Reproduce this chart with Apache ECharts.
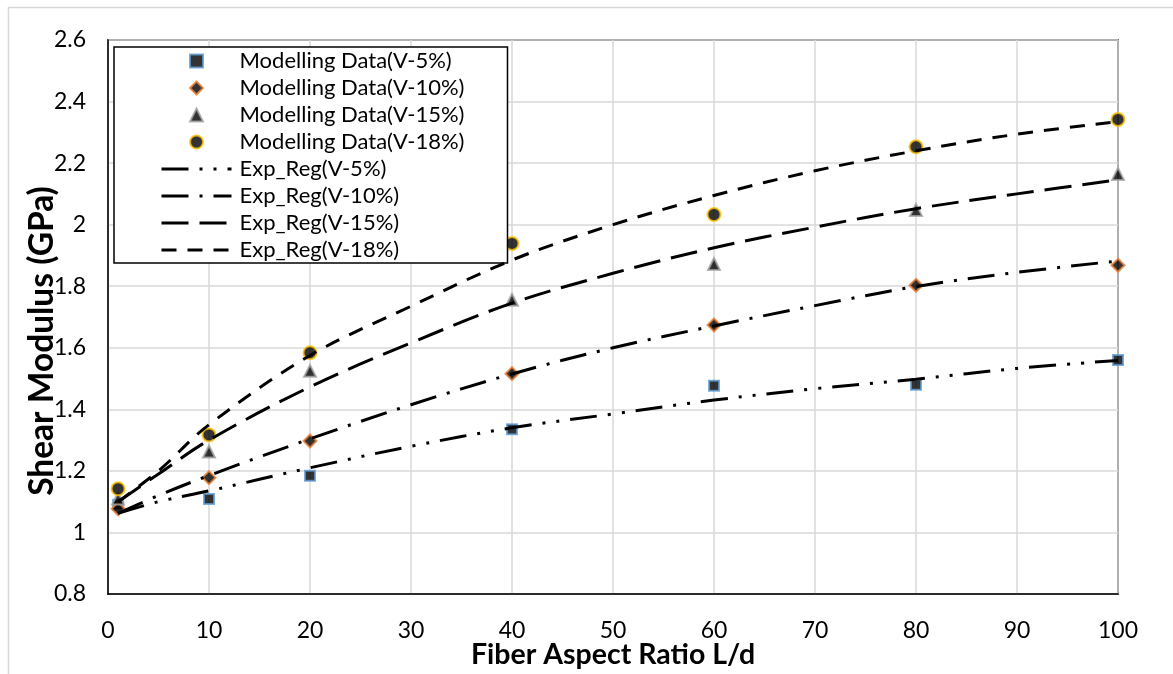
<!DOCTYPE html>
<html>
<head>
<meta charset="utf-8">
<script src="https://cdn.jsdelivr.net/npm/echarts@6/dist/echarts.min.js"></script>
<style>
  html, body { margin: 0; padding: 0; background: #fff; }
  #chart { width: 1173px; height: 674px; }
</style>
</head>
<body>
<div id="chart"></div>
<script>
// Fiber aspect ratios where the model was evaluated
const aspectRatios = [1, 10, 20, 40, 60, 80, 100];

// Modelled shear modulus (GPa) for each fiber volume fraction
const modelV5  = [1.090, 1.109, 1.184, 1.335, 1.477, 1.480, 1.560];
const modelV10 = [1.077, 1.178, 1.297, 1.516, 1.674, 1.803, 1.868];
const modelV15 = [1.110, 1.263, 1.525, 1.756, 1.872, 2.048, 2.165];
const modelV18 = [1.142, 1.317, 1.584, 1.939, 2.033, 2.253, 2.342];

// Exponential regression curves, sampled along the aspect-ratio range
const regX   = [1, 5, 10, 20, 30, 40, 50, 60, 70, 80, 90, 100];
const regV5  = [1.062, 1.100, 1.135, 1.210, 1.280, 1.340, 1.385, 1.430, 1.467, 1.498, 1.533, 1.559];
const regV10 = [1.062, 1.120, 1.185, 1.304, 1.415, 1.515, 1.600, 1.671, 1.737, 1.799, 1.845, 1.882];
const regV15 = [1.100, 1.190, 1.300, 1.473, 1.616, 1.745, 1.842, 1.925, 1.992, 2.052, 2.100, 2.146];
const regV18 = [1.100, 1.200, 1.350, 1.575, 1.735, 1.885, 2.000, 2.095, 2.175, 2.240, 2.294, 2.335];

// Axis ranges and tick steps
const xTicks = { min: 0, max: 100, step: 10 };
const yTicks = { min: 0.8, max: 2.6, step: 0.2 };

const FONT = 'Lato';
const pairs = (xs, ys) => xs.map((x, i) => [x, ys[i]]);

// Marker outlines as paths so the legend keeps them square
const ICONS = {
  rect: 'path://M0,0L10,0L10,10L0,10Z',
  diamond: 'path://M5,0L10,5L5,10L0,5Z',
  triangle: 'path://M5,0L10,10L0,10Z',
  circle: 'path://M0,5A5,5,0,1,1,10,5A5,5,0,1,1,0,5Z'
};

const markers = [
  { name: 'Modelling Data(V-5%)',  values: modelV5,  symbol: 'rect',     size: 10, border: '#5B9BD5' },
  { name: 'Modelling Data(V-10%)', values: modelV10, symbol: 'diamond',  size: 13, border: '#ED7D31' },
  { name: 'Modelling Data(V-15%)', values: modelV15, symbol: 'triangle', size: 12, border: '#A5A5A5' },
  { name: 'Modelling Data(V-18%)', values: modelV18, symbol: 'circle',   size: 13, border: '#FFC000' }
];

const curves = [
  { name: 'Exp_Reg(V-5%)',  values: regV5,  dash: [27, 11, 3, 11, 3, 11] },
  { name: 'Exp_Reg(V-10%)', values: regV10, dash: [27, 11, 3, 11] },
  { name: 'Exp_Reg(V-15%)', values: regV15, dash: [27, 11] },
  { name: 'Exp_Reg(V-18%)', values: regV18, dash: [15, 11] }
];

const series = [
  ...markers.map(m => ({
    name: m.name, type: 'scatter', symbol: m.symbol, symbolSize: m.size,
    data: pairs(aspectRatios, m.values),
    itemStyle: { color: '#000', borderColor: m.border, borderWidth: 2 },
    z: 3
  })),
  ...curves.map(c => ({
    name: c.name, type: 'line', smooth: 0.35, symbol: 'none', showSymbol: false,
    data: pairs(regX, c.values),
    itemStyle: { color: 'rgba(0,0,0,0)', borderWidth: 0 },
    lineStyle: { color: '#000', width: 3, type: c.dash, cap: 'butt' },
    z: 4
  }))
];

const legendData = [
  ...markers.map(m => ({ name: m.name, icon: ICONS[m.symbol] })),
  ...curves.map(c => ({ name: c.name }))
];

const chart = echarts.init(document.getElementById('chart'), null, { renderer: 'canvas' });

chart.setOption({
  backgroundColor: '#fff',
  animation: false,
  graphic: [{
    type: 'rect', left: 6, top: 5, silent: true,
    shape: { width: 1200, height: 700 },
    style: { fill: 'none', stroke: '#D9D9D9', lineWidth: 1.5 }
  }],
  grid: {
    left: 108, right: 55, top: 40, bottom: 76,
    show: true, borderColor: '#000', borderWidth: 1.5, backgroundColor: 'transparent'
  },
  legend: {
    orient: 'vertical', left: 114, top: 47,
    padding: [3, 43, 2, 46],
    itemWidth: 70, itemHeight: 13, itemGap: 5,
    symbolKeepAspect: true,
    backgroundColor: '#fff', borderColor: '#000', borderWidth: 1.5,
    textStyle: { fontFamily: FONT, fontSize: 22, lineHeight: 21, color: '#000', padding: [0, 0, 0, 3] },
    lineStyle: { width: 3 },
    data: legendData
  },
  xAxis: {
    type: 'value', min: xTicks.min, max: xTicks.max, interval: xTicks.step,
    name: 'Fiber Aspect Ratio L/d', nameLocation: 'middle', nameGap: 46, nameMoveOverlap: false,
    nameTextStyle: { fontFamily: FONT, fontSize: 28.5, fontWeight: 'bold', color: '#000' },
    axisLine: { show: true, onZero: false, lineStyle: { color: '#000', width: 1.5 } },
    axisTick: { show: false },
    axisLabel: { fontFamily: FONT, fontSize: 23, color: '#000', margin: 25 },
    splitLine: { show: true, lineStyle: { color: '#D9D9D9', width: 1.5 } }
  },
  yAxis: {
    type: 'value', min: yTicks.min, max: yTicks.max, interval: yTicks.step,
    name: 'Shear Modulus (GPa)', nameLocation: 'middle', nameGap: 49, nameRotate: 90, nameMoveOverlap: false,
    nameTextStyle: { fontFamily: FONT, fontSize: 33.5, fontWeight: 'bold', color: '#000', padding: [0, 48, 0, 0] },
    axisLine: { show: true, onZero: false, lineStyle: { color: '#000', width: 1.5 } },
    axisTick: { show: false },
    axisLabel: {
      fontFamily: FONT, fontSize: 23, color: '#000', margin: 22,
      formatter: v => String(Math.round(v * 10) / 10)
    },
    splitLine: { show: true, lineStyle: { color: '#D9D9D9', width: 1.5 } }
  },
  series
});
</script>
</body>
</html>
